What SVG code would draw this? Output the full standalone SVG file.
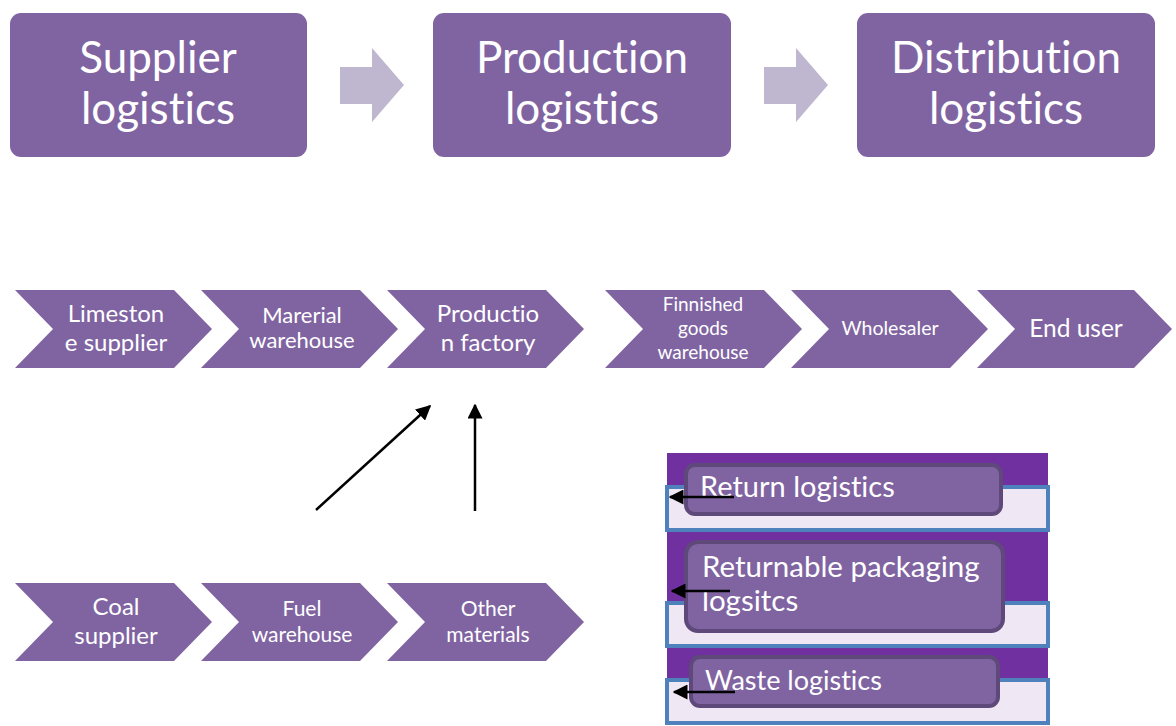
<svg xmlns="http://www.w3.org/2000/svg" width="1176" height="726" viewBox="0 0 1176 726">
<style>
.box{fill:#8064A2}
.harrow{fill:#BFB6D0}
.chev{fill:#8064A2}
.t{font-family:Lato,"Liberation Sans",sans-serif;fill:#FFFFFF;text-anchor:middle;font-variant-ligatures:none}
.tl{font-family:Lato,"Liberation Sans",sans-serif;fill:#FFFFFF;font-variant-ligatures:none}
.big{font-size:44px}
.conn{stroke:#000;stroke-width:2.5;fill:none;marker-end:url(#ah)}
.band{fill:#EFE7F3;stroke:#4F81BD;stroke-width:4}
.rbox{fill:#8064A2;stroke:#5F497A;stroke-width:4}
</style>
<defs>
<marker id="ah" viewBox="0 0 10 10" refX="9" refY="5" markerWidth="6" markerHeight="6" markerUnits="strokeWidth" orient="auto">
<path d="M0,0 L10,5 L0,10 z" fill="#000"/>
</marker>
</defs>
<rect width="1176" height="726" fill="#FFFFFF"/>

<g id="supplier-logistics">
<rect class="box" x="10" y="13" width="297" height="144" rx="11"/>
<text class="t big" x="158" y="73">Supplier</text>
<text class="t big" x="158" y="124">logistics</text>
</g>
<g id="harrow1"><path class="harrow" d="M340,67 H372 V48 L404,85 L372,122 V104 H340 Z"/></g>
<g id="production-logistics">
<rect class="box" x="433" y="13" width="298" height="144" rx="11"/>
<text class="t big" x="582" y="73">Production</text>
<text class="t big" x="582" y="124">logistics</text>
</g>
<g id="harrow2"><path class="harrow" d="M764,67 H796 V48 L828,85 L796,122 V104 H764 Z"/></g>
<g id="distribution-logistics">
<rect class="box" x="857" y="13" width="298" height="144" rx="11"/>
<text class="t big" x="1006" y="73">Distribution</text>
<text class="t big" x="1006" y="124">logistics</text>
</g>

<g id="limestone-supplier">
<path class="chev" d="M15,290 H174 L212,329 L174,368 H15 L53,329 Z"/>
<text class="t" font-size="24" x="116" y="322">Limeston</text>
<text class="t" font-size="24" x="116" y="351">e supplier</text>
</g>
<g id="material-warehouse">
<path class="chev" d="M201,290 H360 L398,329 L360,368 H201 L239,329 Z"/>
<text class="t" font-size="22" x="302" y="323">Marerial</text>
<text class="t" font-size="22" x="302" y="348">warehouse</text>
</g>
<g id="production-factory">
<path class="chev" d="M387,290 H546 L584,329 L546,368 H387 L425,329 Z"/>
<text class="t" font-size="24" x="488" y="322">Productio</text>
<text class="t" font-size="24" x="488" y="351">n factory</text>
</g>
<g id="finished-goods-warehouse">
<path class="chev" d="M605,290 H764 L802,329 L764,368 H605 L643,329 Z"/>
<text class="t" font-size="19" x="703" y="311">Finnished</text>
<text class="t" font-size="19" x="703" y="335">goods</text>
<text class="t" font-size="19" x="703" y="359">warehouse</text>
</g>
<g id="wholesaler">
<path class="chev" d="M791,290 H950 L988,329 L950,368 H791 L829,329 Z"/>
<text class="t" font-size="19.5" x="890" y="335">Wholesaler</text>
</g>
<g id="end-user">
<path class="chev" d="M977,290 H1134 L1172,329 L1134,368 H977 L1015,329 Z"/>
<text class="t" font-size="24.5" x="1076" y="337">End user</text>
</g>

<g id="coal-supplier">
<path class="chev" d="M15,583 H174 L212,622 L174,661 H15 L53,622 Z"/>
<text class="t" font-size="24" x="116" y="615">Coal</text>
<text class="t" font-size="24" x="116" y="644">supplier</text>
</g>
<g id="fuel-warehouse">
<path class="chev" d="M201,583 H360 L398,622 L360,661 H201 L239,622 Z"/>
<text class="t" font-size="21" x="302" y="616">Fuel</text>
<text class="t" font-size="21" x="302" y="642">warehouse</text>
</g>
<g id="other-materials">
<path class="chev" d="M387,583 H546 L584,622 L546,661 H387 L425,622 Z"/>
<text class="t" font-size="21" x="488" y="616">Other</text>
<text class="t" font-size="21" x="488" y="642">materials</text>
</g>

<g id="reverse-logistics-panel">
<rect x="667" y="453" width="381" height="271" fill="#7030A0"/>
<rect class="band" x="667" y="487" width="381" height="43"/>
<rect class="band" x="667" y="603" width="381" height="43"/>
<rect class="band" x="667" y="680" width="381" height="43"/>
</g>
<g id="return-logistics">
<rect class="rbox" x="686" y="465" width="315" height="49" rx="9"/>
<text class="tl" font-size="29" x="700" y="497">Return logistics</text>
</g>
<g id="returnable-packaging-logistics">
<rect class="rbox" x="686" y="542" width="317" height="89" rx="12"/>
<text class="tl" font-size="29.5" x="702" y="577">Returnable packaging</text>
<text class="tl" font-size="29.5" x="702" y="611">logsitcs</text>
</g>
<g id="waste-logistics">
<rect class="rbox" x="691" y="657" width="307" height="49" rx="9"/>
<text class="tl" font-size="27" x="705" y="690">Waste logistics</text>
</g>

<g id="connectors">
<line class="conn" x1="316" y1="510" x2="430" y2="406"/>
<line class="conn" x1="475" y1="511" x2="475" y2="405"/>
<line class="conn" x1="734" y1="497" x2="670" y2="497"/>
<line class="conn" x1="730" y1="591" x2="672" y2="591"/>
<line class="conn" x1="735" y1="692" x2="674" y2="692"/>
</g>
</svg>
